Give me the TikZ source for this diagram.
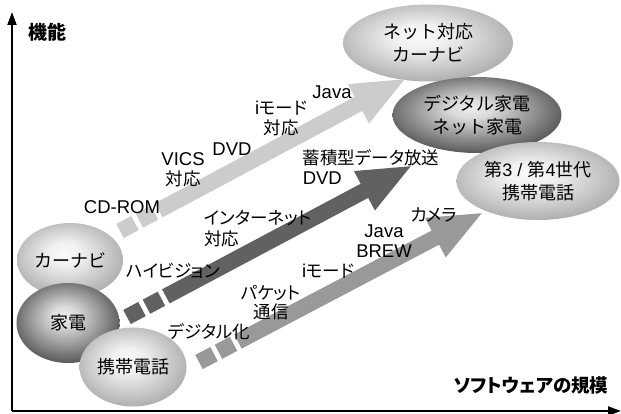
\documentclass[tikz,border=0pt]{standalone}
\usepackage{fontspec}
\setmainfont{Liberation Sans}
\newfontfamily\jp{Noto Sans CJK JP}
\newfontfamily\jpp[RawFeature=+palt]{Noto Sans CJK JP}
\newcommand{\jl}{\jpp\fontsize{17.5}{21}\selectfont}
\usetikzlibrary{arrows.meta,shapes.geometric}

\pgfdeclareradialshading{lightball}{\pgfpoint{-3bp}{5bp}}{color(0bp)=(black!2); color(8bp)=(black!6); color(31bp)=(black!36); color(50bp)=(black!36)}
\pgfdeclareradialshading{darkball}{\pgfpoint{-2bp}{5bp}}{color(0bp)=(black!8); color(6bp)=(black!14); color(31bp)=(black!74); color(50bp)=(black!74)}

\begin{document}
\begin{tikzpicture}[x=1pt,y=-1pt,
  ellbase/.style={ellipse, draw=none, inner sep=0pt, align=center,
    font=\jp\fontsize{18}{23}\selectfont},
  elllight/.style={ellbase, shading=lightball},
  elldark/.style={ellbase, shading=darkball},
  lab/.style={inner sep=0pt, align=center, font=\fontsize{18.5}{20}\selectfont},
  jlab/.style={inner sep=0pt, align=center, font=\jl},
  axisline/.style={line width=2pt, -{Triangle[length=13pt,width=9pt]}},
  bigarrow/.style={line width=16pt,
    dash pattern=on 17pt off 5pt on 17pt off 5pt on 2000pt,
    -{Triangle[length=55pt,width=40pt]}},
]
\useasboundingbox (0,0) rectangle (621,414);

% axes
\coordinate (O) at (12,411);
\coordinate (Ytop) at (12,12);
\coordinate (Xend) at (621,411);
\draw[axisline] (O) -- (Ytop);
\draw[axisline] (O) -- (Xend);
\node[inner sep=0pt, font=\jp\bfseries\fontsize{19}{19}\selectfont] (ylab) at (47,32) {機能};
\node[inner sep=0pt, font=\jpp\bfseries\fontsize{18.5}{18}\selectfont] (xlab) at (531,385) {ソフトウェアの規模};

% ellipses (back to front)
\node[elllight, minimum width=106pt, minimum height=74pt] (carnavi) at (70,260) {カーナビ};
\node[elldark, minimum width=103pt, minimum height=80pt] (kaden) at (68,323) {家電};
\node[elllight, minimum width=107pt, minimum height=79pt] (keitai) at (133,367) {携帯電話};

\node[elllight, minimum width=170pt, minimum height=77pt] (netnavi) at (428,43) {ネット対応\\カーナビ};
\node[elldark, minimum width=169pt, minimum height=76pt] (digikaden) at (477,115) {デジタル家電\\ネット家電};
\node[elllight, minimum width=163pt, minimum height=78pt] (gen34) at (538,181)
  {第{\rmfamily 3 / }第{\rmfamily 4}世代\\携帯電話};

% arrows
\coordinate (a1s) at (120,231);
\coordinate (a1t) at (407,78);
\coordinate (a2s) at (127,317);
\coordinate (a2t) at (413,165);
\coordinate (a3s) at (199,362);
\coordinate (a3t) at (484,212);
\draw[bigarrow, draw=black!20] (a1s) -- (a1t);
\draw[bigarrow, draw=black!62] (a2s) -- (a2t);
\draw[bigarrow, draw=black!40] (a3s) -- (a3t);

% labels, top arrow
\node[lab] (cdrom) at (122,207) {CD-ROM};
\node[lab] (vics) at (183,170) {VICS\\{\jl 対応}};
\node[lab] (dvd1) at (232,149) {DVD};
\node[lab] (imode1) at (281,118) {i{\jl モード}\\{\jl 対応}};
\node[lab] (java1) at (332,92) {Java};

% labels, middle arrow
\node[jlab] (hivision) at (173,271) {ハイビジョン};
\node[jlab, align=left] (internet) at (258,229) {インターネット\\対応};
\node[lab, align=left] (chikuseki) at (371,167) {{\jl 蓄積型データ放送}\\DVD};

% labels, bottom arrow
\node[jlab] (digital) at (209,332) {デジタル化};
\node[jlab, font=\jpp\fontsize{17.5}{19}\selectfont] (packet) at (271,303) {パケット\\通信};
\node[lab] (imode2) at (328,271) {i{\jl モード}};
\node[lab] (java2) at (384,241) {Java\\BREW};
\node[jlab] (camera) at (434,215) {カメラ};
\end{tikzpicture}
\end{document}
